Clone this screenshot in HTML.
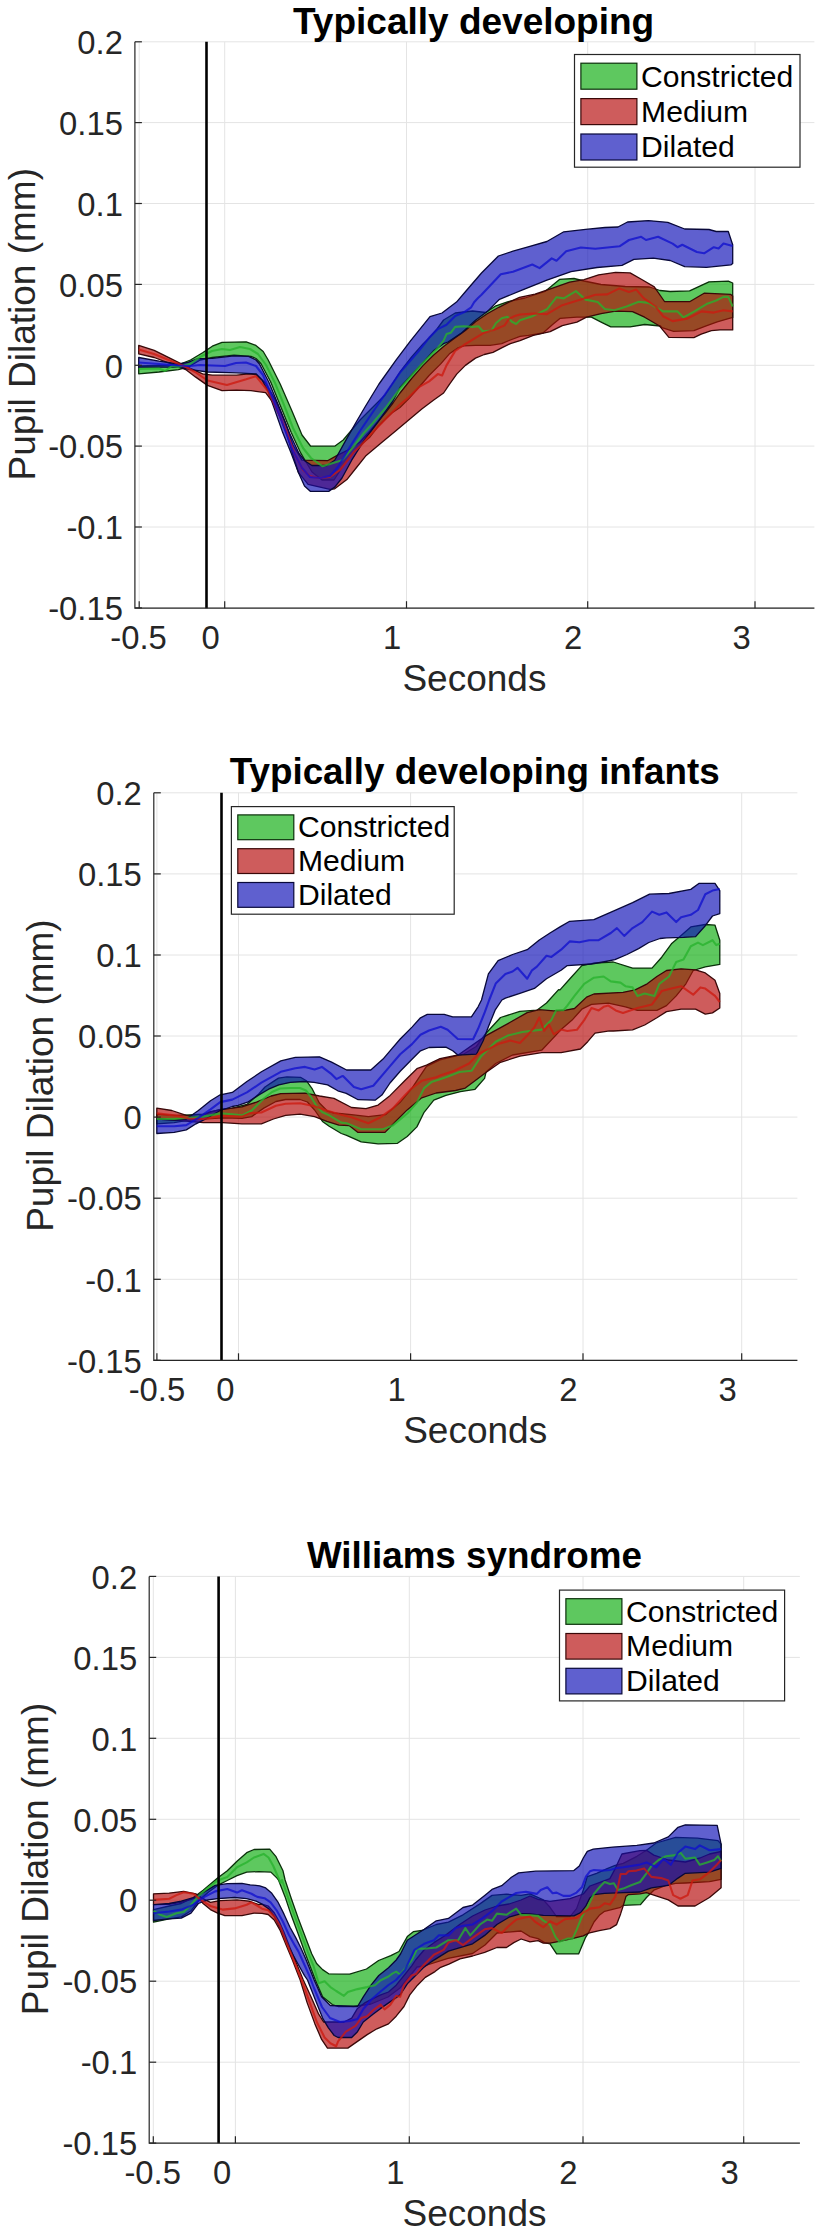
<!DOCTYPE html>
<html><head><meta charset="utf-8"><title>Pupil Dilation</title>
<style>
html,body{margin:0;padding:0;background:#fff;}
svg{display:block;font-family:"Liberation Sans",Arial,Helvetica,sans-serif;fill:#262626;}
</style></head><body>
<svg width="826" height="2237" viewBox="0 0 826 2237">
<rect width="826" height="2237" fill="#fff"/>
<line x1="134.9" x2="814.4" y1="41.8" y2="41.8" stroke="#e4e4e4" stroke-width="1"/>
<line x1="134.9" x2="814.4" y1="122.6" y2="122.6" stroke="#e4e4e4" stroke-width="1"/>
<line x1="134.9" x2="814.4" y1="203.5" y2="203.5" stroke="#e4e4e4" stroke-width="1"/>
<line x1="134.9" x2="814.4" y1="284.4" y2="284.4" stroke="#e4e4e4" stroke-width="1"/>
<line x1="134.9" x2="814.4" y1="365.3" y2="365.3" stroke="#e4e4e4" stroke-width="1"/>
<line x1="134.9" x2="814.4" y1="446.1" y2="446.1" stroke="#e4e4e4" stroke-width="1"/>
<line x1="134.9" x2="814.4" y1="527.0" y2="527.0" stroke="#e4e4e4" stroke-width="1"/>
<line x1="134.9" x2="814.4" y1="607.9" y2="607.9" stroke="#e4e4e4" stroke-width="1"/>
<line x1="139.2" x2="139.2" y1="41.8" y2="608.2" stroke="#e4e4e4" stroke-width="1"/>
<line x1="224.7" x2="224.7" y1="41.8" y2="608.2" stroke="#e4e4e4" stroke-width="1"/>
<line x1="406.5" x2="406.5" y1="41.8" y2="608.2" stroke="#e4e4e4" stroke-width="1"/>
<line x1="587.7" x2="587.7" y1="41.8" y2="608.2" stroke="#e4e4e4" stroke-width="1"/>
<line x1="755.0" x2="755.0" y1="41.8" y2="608.2" stroke="#e4e4e4" stroke-width="1"/>
<polygon points="138.7,366.0 159.0,365.5 178.4,364.8 190.5,360.0 202.6,352.7 212.3,346.2 222.0,342.3 246.2,341.8 255.9,345.4 263.2,351.5 268.2,360.0 280.3,384.2 292.4,412.0 302.0,435.0 310.5,446.0 334.7,446.2 343.2,440.0 350.0,432.0 360.0,420.0 372.0,408.0 385.0,395.0 400.0,372.0 411.6,357.0 423.0,344.0 429.1,338.0 437.0,329.0 443.6,320.0 455.2,313.0 472.6,311.0 485.7,312.5 495.9,305.8 507.5,301.8 525.0,298.0 545.0,291.5 559.5,279.4 574.0,278.5 584.0,281.0 601.0,284.5 625.3,286.5 649.5,287.0 660.0,290.5 670.2,291.5 689.6,290.8 709.0,281.8 728.3,281.1 732.7,283.0 732.7,317.4 717.2,321.9 705.5,326.2 693.9,330.6 673.6,331.3 662.0,327.7 660.5,326.0 644.6,324.5 630.1,326.9 610.8,326.9 601.1,322.1 591.4,317.2 576.9,317.2 559.9,318.4 552.6,324.5 543.0,333.0 528.4,335.4 520.0,336.3 510.4,340.0 501.7,343.6 490.1,345.3 475.5,345.3 463.9,345.8 458.1,347.9 449.4,353.8 440.7,363.9 429.1,375.5 418.9,387.2 408.7,398.8 400.0,407.5 393.0,412.1 384.5,420.0 378.4,426.0 370.0,436.9 360.3,445.4 356.5,449.0 344.4,464.0 334.0,480.0 322.0,480.0 312.0,472.0 306.0,462.0 300.8,453.2 291.2,432.6 281.5,408.4 270.6,381.8 260.9,363.5 256.0,358.5 251.0,356.3 234.0,355.1 212.3,357.5 200.2,360.0 188.0,367.2 178.4,369.6 159.0,372.0 138.7,373.8" fill="rgb(10,172,12)" fill-opacity="0.66" stroke="#0a300a" stroke-width="1.3" stroke-linejoin="round"/>
<polygon points="138.7,345.4 154.2,350.3 166.3,356.3 180.8,363.6 190.5,368.4 202.6,373.8 212.3,375.2 236.5,375.2 248.6,373.8 255.9,374.5 265.6,383.0 275.3,399.9 285.0,421.7 293.0,445.0 302.0,460.2 327.5,460.7 337.2,455.4 350.0,449.0 360.0,442.0 370.0,431.0 378.4,421.0 386.0,412.0 393.0,403.0 400.0,393.0 411.6,378.5 423.2,365.4 433.4,355.2 443.6,346.5 455.2,337.8 465.4,330.5 475.5,321.8 487.2,313.8 498.8,307.3 509.0,302.2 519.5,297.3 535.0,294.2 552.6,288.2 569.6,282.1 584.1,279.7 598.6,274.8 615.6,272.4 630.1,272.9 642.2,279.7 654.3,286.9 664.5,301.5 689.6,301.7 704.1,293.2 730.8,294.4 732.7,296.0 732.7,329.9 720.0,329.9 711.4,330.6 701.2,334.2 693.9,337.6 668.9,337.3 659.2,325.7 644.6,317.2 632.5,311.6 615.6,311.2 601.1,313.6 586.5,317.2 576.9,322.1 562.3,325.7 550.2,331.7 533.3,335.4 520.0,340.7 510.4,343.6 501.7,347.9 493.0,352.3 484.3,354.5 475.5,358.1 465.4,365.4 456.7,374.1 449.4,384.3 443.6,393.0 433.4,400.2 421.8,409.0 408.7,420.0 395.3,431.2 380.8,443.3 366.2,455.4 356.5,467.5 346.9,479.6 334.7,488.8 330.0,489.3 308.1,484.4 298.4,472.3 293.0,455.0 287.4,436.2 280.0,416.9 272.9,402.3 265.6,392.6 251.0,390.7 236.5,390.2 222.0,390.7 207.5,385.4 195.4,376.9 185.7,369.6 173.6,364.8 154.2,357.5 138.7,353.9" fill="rgb(180,8,8)" fill-opacity="0.66" stroke="#3a0808" stroke-width="1.3" stroke-linejoin="round"/>
<polygon points="138.7,357.5 159.0,361.2 178.4,364.0 188.0,362.4 197.8,358.7 212.3,358.3 234.0,355.8 248.6,356.3 256.0,360.0 259.5,364.0 269.0,382.5 280.0,409.0 289.5,433.0 299.0,453.5 305.0,461.0 312.0,465.5 327.0,465.5 334.7,460.2 346.9,438.4 356.5,421.5 365.0,407.0 379.0,384.0 396.0,360.2 410.5,340.8 430.0,316.6 442.0,313.0 456.5,302.1 466.0,291.0 481.5,273.0 498.4,256.0 513.0,251.2 529.9,246.3 546.9,241.5 563.8,231.8 585.6,229.4 605.0,227.5 618.0,227.0 627.5,222.0 648.4,220.6 667.8,222.3 684.7,229.0 709.0,229.5 716.2,231.5 728.3,231.5 732.7,244.8 732.7,263.4 730.8,264.9 706.5,267.3 684.7,266.6 670.2,260.5 653.3,258.1 633.9,259.4 622.0,265.3 597.0,267.5 571.0,271.7 546.9,280.2 522.6,289.9 499.5,299.3 495.9,302.9 487.2,311.6 475.5,320.3 461.0,333.4 448.0,342.0 443.6,343.6 433.4,350.9 421.8,363.9 411.0,375.5 400.0,387.5 392.9,401.0 378.3,421.5 363.8,440.8 351.7,460.2 342.0,478.0 334.7,487.1 328.7,491.4 310.5,491.4 304.5,485.9 298.4,472.6 291.2,453.2 282.7,432.6 274.2,408.4 268.2,391.5 262.0,380.0 256.0,373.8 236.5,372.8 207.5,372.0 190.5,369.6 178.4,367.2 159.0,367.2 138.7,367.2" fill="rgb(12,14,182)" fill-opacity="0.66" stroke="#08083a" stroke-width="1.3" stroke-linejoin="round"/>
<polyline points="138.7,369.0 159.0,368.5 165.0,371.0 172.0,366.0 178.4,367.0 190.0,364.0 200.0,357.0 212.0,351.0 222.0,349.0 230.0,350.0 240.0,347.0 250.0,349.0 258.0,354.0 266.0,365.0 275.0,383.0 284.0,405.0 293.0,428.0 303.0,448.0 311.0,458.0 322.6,466.3 342.0,460.2 354.0,446.0 363.8,433.0 372.0,424.0 385.6,408.0 393.0,398.0 400.0,388.6 411.6,375.5 421.8,363.9 429.1,356.7 437.8,347.9 443.6,340.7 446.5,334.1 450.9,332.7 455.2,326.9 463.9,326.2 472.6,326.9 478.5,326.2 482.8,331.2 491.5,330.5 495.9,323.2 501.7,318.2 507.5,316.7 511.9,321.8 516.2,324.0 520.0,320.3 531.6,316.6 546.9,309.3 556.5,297.2 563.8,298.4 575.9,291.1 585.6,299.6 597.7,302.0 604.8,309.0 614.5,310.2 626.6,306.5 638.7,301.7 648.4,302.9 663.0,311.4 677.5,311.4 683.5,317.4 694.4,311.4 706.5,304.1 716.2,300.5 723.5,296.9 728.3,296.9 732.7,306.5" fill="none" stroke="rgb(40,178,45)" stroke-width="2.1" stroke-linejoin="round" stroke-opacity="0.78"/>
<polyline points="138.7,349.5 154.0,354.0 170.0,360.5 185.0,366.5 195.0,372.0 207.5,380.5 226.9,384.9 246.2,379.3 255.9,376.2 268.0,391.0 277.0,410.0 286.0,430.0 295.0,455.0 303.0,470.0 310.0,476.0 318.0,478.0 330.0,477.0 340.0,470.0 354.0,452.0 360.3,446.0 371.0,434.0 386.0,418.5 393.0,411.5 400.0,404.6 408.7,397.3 418.9,387.2 429.1,381.4 437.8,374.1 442.1,375.5 446.5,365.4 455.2,350.9 463.9,345.0 475.5,337.8 484.3,332.7 494.4,329.8 504.6,325.4 509.0,318.9 514.8,316.0 520.0,314.5 534.0,313.5 546.9,314.1 561.4,305.6 580.8,299.6 595.3,294.7 607.3,294.4 619.4,288.4 629.0,292.0 636.3,289.6 643.6,298.1 655.7,306.5 663.0,316.2 672.6,321.1 687.2,318.6 701.7,311.4 713.8,312.6 723.5,310.2 732.7,311.4" fill="none" stroke="rgb(205,25,15)" stroke-width="2.1" stroke-linejoin="round" stroke-opacity="0.78"/>
<polyline points="138.7,362.5 159.0,364.0 178.0,365.5 190.0,366.0 200.0,365.0 212.0,365.5 225.0,366.0 236.0,363.0 246.0,362.5 256.0,366.0 263.0,375.0 270.0,392.0 281.0,419.0 292.0,449.0 302.0,468.0 310.0,477.0 320.0,478.0 330.0,476.0 338.0,467.0 348.0,450.0 360.0,431.0 374.2,410.0 393.6,382.0 400.0,372.6 408.7,362.5 418.9,350.9 429.1,337.8 437.8,329.1 446.5,324.7 455.2,316.0 463.9,312.3 471.2,307.3 474.1,302.2 478.0,298.0 481.5,294.7 500.8,274.2 513.0,271.7 532.3,264.5 539.6,268.1 551.7,258.4 556.5,260.8 566.2,251.2 580.8,247.5 595.3,248.7 619.5,246.3 629.0,240.0 641.2,236.8 646.0,240.0 658.1,236.8 672.6,243.6 677.5,247.2 682.3,244.8 696.9,252.0 704.1,253.3 713.8,247.2 718.6,248.4 723.5,243.6 732.7,246.0" fill="none" stroke="rgb(15,15,205)" stroke-width="2.1" stroke-linejoin="round" stroke-opacity="0.78"/>
<line x1="206.5" x2="206.5" y1="41.8" y2="608.2" stroke="#000" stroke-width="2.6"/>
<path d="M134.9,41.8V608.2H814.4" fill="none" stroke="#262626" stroke-width="1.2"/>
<line x1="134.9" x2="141.9" y1="41.8" y2="41.8" stroke="#262626" stroke-width="1.2"/>
<line x1="134.9" x2="141.9" y1="122.6" y2="122.6" stroke="#262626" stroke-width="1.2"/>
<line x1="134.9" x2="141.9" y1="203.5" y2="203.5" stroke="#262626" stroke-width="1.2"/>
<line x1="134.9" x2="141.9" y1="284.4" y2="284.4" stroke="#262626" stroke-width="1.2"/>
<line x1="134.9" x2="141.9" y1="365.3" y2="365.3" stroke="#262626" stroke-width="1.2"/>
<line x1="134.9" x2="141.9" y1="446.1" y2="446.1" stroke="#262626" stroke-width="1.2"/>
<line x1="134.9" x2="141.9" y1="527.0" y2="527.0" stroke="#262626" stroke-width="1.2"/>
<line x1="134.9" x2="141.9" y1="607.9" y2="607.9" stroke="#262626" stroke-width="1.2"/>
<line x1="139.2" x2="139.2" y1="608.2" y2="601.2" stroke="#262626" stroke-width="1.2"/>
<line x1="224.7" x2="224.7" y1="608.2" y2="601.2" stroke="#262626" stroke-width="1.2"/>
<line x1="406.5" x2="406.5" y1="608.2" y2="601.2" stroke="#262626" stroke-width="1.2"/>
<line x1="587.7" x2="587.7" y1="608.2" y2="601.2" stroke="#262626" stroke-width="1.2"/>
<line x1="755.0" x2="755.0" y1="608.2" y2="601.2" stroke="#262626" stroke-width="1.2"/>
<text x="122.9" y="54.0" text-anchor="end" font-size="32.8">0.2</text>
<text x="122.9" y="134.8" text-anchor="end" font-size="32.8">0.15</text>
<text x="122.9" y="215.7" text-anchor="end" font-size="32.8">0.1</text>
<text x="122.9" y="296.6" text-anchor="end" font-size="32.8">0.05</text>
<text x="122.9" y="377.5" text-anchor="end" font-size="32.8">0</text>
<text x="122.9" y="458.3" text-anchor="end" font-size="32.8">-0.05</text>
<text x="122.9" y="539.2" text-anchor="end" font-size="32.8">-0.1</text>
<text x="122.9" y="620.1" text-anchor="end" font-size="32.8">-0.15</text>
<text x="138.5" y="648.6" text-anchor="middle" font-size="32.8">-0.5</text>
<text x="210.7" y="648.6" text-anchor="middle" font-size="32.8">0</text>
<text x="392.0" y="648.6" text-anchor="middle" font-size="32.8">1</text>
<text x="573.2" y="648.6" text-anchor="middle" font-size="32.8">2</text>
<text x="741.5" y="648.6" text-anchor="middle" font-size="32.8">3</text>
<text x="473.6" y="33.8" text-anchor="middle" font-size="37.0" font-weight="bold" fill="#000">Typically developing</text>
<text x="474.4" y="691.2" text-anchor="middle" font-size="37">Seconds</text>
<text transform="translate(34.6,324.3) rotate(-90)" text-anchor="middle" font-size="37">Pupil Dilation (mm)</text>
<rect x="574.5" y="54.5" width="225.5" height="112.7" fill="#fff" stroke="#262626" stroke-width="1.2"/>
<rect x="580.9" y="63.2" width="56" height="26.0" fill="rgb(10,172,12)" fill-opacity="0.66" stroke="#0a300a" stroke-width="1.2"/>
<text x="641.1" y="86.6" font-size="30.1" fill="#000">Constricted</text>
<rect x="580.9" y="98.6" width="56" height="26.0" fill="rgb(180,8,8)" fill-opacity="0.66" stroke="#3a0808" stroke-width="1.2"/>
<text x="641.1" y="122.0" font-size="30.1" fill="#000">Medium</text>
<rect x="580.9" y="134.0" width="56" height="26.0" fill="rgb(12,14,182)" fill-opacity="0.66" stroke="#08083a" stroke-width="1.2"/>
<text x="641.1" y="157.4" font-size="30.1" fill="#000">Dilated</text>
<line x1="153.8" x2="797.4" y1="792.8" y2="792.8" stroke="#e4e4e4" stroke-width="1"/>
<line x1="153.8" x2="797.4" y1="873.9" y2="873.9" stroke="#e4e4e4" stroke-width="1"/>
<line x1="153.8" x2="797.4" y1="955.0" y2="955.0" stroke="#e4e4e4" stroke-width="1"/>
<line x1="153.8" x2="797.4" y1="1036.0" y2="1036.0" stroke="#e4e4e4" stroke-width="1"/>
<line x1="153.8" x2="797.4" y1="1117.1" y2="1117.1" stroke="#e4e4e4" stroke-width="1"/>
<line x1="153.8" x2="797.4" y1="1198.2" y2="1198.2" stroke="#e4e4e4" stroke-width="1"/>
<line x1="153.8" x2="797.4" y1="1279.3" y2="1279.3" stroke="#e4e4e4" stroke-width="1"/>
<line x1="153.8" x2="797.4" y1="1360.3" y2="1360.3" stroke="#e4e4e4" stroke-width="1"/>
<line x1="156.9" x2="156.9" y1="792.8" y2="1360.3" stroke="#e4e4e4" stroke-width="1"/>
<line x1="238.5" x2="238.5" y1="792.8" y2="1360.3" stroke="#e4e4e4" stroke-width="1"/>
<line x1="410.6" x2="410.6" y1="792.8" y2="1360.3" stroke="#e4e4e4" stroke-width="1"/>
<line x1="583.0" x2="583.0" y1="792.8" y2="1360.3" stroke="#e4e4e4" stroke-width="1"/>
<line x1="741.7" x2="741.7" y1="792.8" y2="1360.3" stroke="#e4e4e4" stroke-width="1"/>
<polygon points="156.8,1114.2 174.2,1115.4 188.7,1114.9 203.3,1114.2 220.2,1109.3 232.3,1108.1 246.9,1104.5 252.0,1100.0 258.5,1094.2 265.0,1087.0 272.0,1082.4 278.5,1078.1 286.9,1076.9 300.5,1077.3 306.4,1080.7 312.4,1089.2 319.2,1102.7 327.6,1111.2 334.0,1113.0 351.5,1114.7 368.4,1116.7 385.4,1114.7 399.9,1102.6 412.0,1088.1 419.3,1077.2 426.5,1066.3 440.0,1059.9 464.2,1053.8 476.3,1046.5 486.0,1033.2 500.5,1017.5 519.9,1011.4 536.9,1010.2 546.5,1003.0 558.6,989.6 560.0,989.9 569.7,979.0 581.8,965.6 593.9,963.2 613.3,962.0 632.6,968.1 652.0,968.1 661.7,957.2 671.4,943.8 681.1,935.4 690.8,926.9 705.3,924.5 715.0,925.2 719.8,940.2 719.8,964.4 705.3,966.9 693.2,970.5 685.9,983.8 676.2,995.9 666.5,1005.6 656.9,1010.4 637.5,1010.4 625.4,1006.8 608.4,1003.2 591.5,1004.4 581.8,1009.2 572.1,1020.1 561.1,1029.6 541.7,1050.2 512.6,1055.0 495.7,1063.5 486.0,1072.0 484.6,1078.4 475.0,1089.3 460.4,1091.7 445.9,1095.4 433.8,1100.2 424.1,1112.3 416.9,1126.9 407.2,1136.5 397.5,1143.3 378.1,1143.8 361.2,1141.9 346.6,1135.3 341.3,1133.5 329.2,1126.3 322.5,1121.4 314.6,1110.0 307.4,1102.0 300.1,1099.5 285.6,1099.5 275.9,1101.5 263.8,1108.1 251.7,1116.6 242.0,1118.3 222.6,1117.8 203.3,1119.0 188.7,1120.2 174.2,1122.6 156.8,1123.8" fill="rgb(10,172,12)" fill-opacity="0.66" stroke="#0a300a" stroke-width="1.3" stroke-linejoin="round"/>
<polygon points="156.8,1108.1 171.8,1110.5 186.3,1115.4 198.4,1116.6 210.5,1111.7 222.6,1109.3 242.0,1106.9 256.5,1102.1 271.1,1096.0 280.8,1093.6 305.0,1093.1 319.5,1096.0 334.0,1098.4 351.5,1107.5 366.0,1108.7 378.1,1105.1 390.2,1095.4 404.7,1080.8 416.9,1068.7 426.5,1065.1 440.0,1058.6 458.2,1055.0 486.0,1035.6 510.2,1022.3 527.2,1012.6 539.3,1009.7 553.8,1010.9 565.9,1010.2 574.5,1008.5 586.6,997.1 593.9,994.0 623.0,992.3 635.1,989.9 647.2,983.8 656.9,976.5 666.5,970.5 681.1,968.8 695.6,969.8 705.3,972.9 715.0,980.2 719.8,993.5 719.8,1008.0 712.5,1012.9 705.3,1014.1 695.6,1009.2 681.1,1009.2 666.5,1011.6 656.9,1017.7 644.7,1025.0 632.6,1029.8 613.3,1031.0 609.5,1030.8 595.0,1033.2 587.7,1041.7 580.4,1049.0 561.1,1052.6 541.7,1052.6 519.9,1056.2 500.5,1062.3 488.4,1070.8 484.6,1073.6 475.0,1080.8 465.3,1088.1 455.6,1090.5 436.2,1093.0 421.7,1097.8 407.2,1109.9 395.1,1122.0 385.0,1132.4 358.0,1132.4 349.1,1125.6 338.9,1125.1 326.8,1121.4 314.6,1116.6 300.1,1114.2 285.6,1115.4 273.5,1119.0 261.4,1123.8 242.0,1123.8 222.6,1122.6 203.3,1122.6 188.7,1121.4 174.2,1120.2 156.8,1119.0" fill="rgb(180,8,8)" fill-opacity="0.66" stroke="#3a0808" stroke-width="1.3" stroke-linejoin="round"/>
<polygon points="156.8,1119.0 174.2,1120.2 186.3,1119.0 198.4,1110.5 210.5,1100.8 220.2,1094.8 232.3,1092.4 246.9,1081.5 261.4,1071.8 280.8,1060.9 295.3,1057.3 319.5,1056.8 331.6,1062.1 346.6,1070.0 370.8,1070.0 383.0,1059.1 390.0,1050.8 400.2,1039.0 412.0,1027.1 420.5,1017.8 427.3,1014.4 444.2,1014.4 452.7,1016.9 471.4,1016.9 478.1,1006.8 481.5,1000.0 488.4,973.9 498.1,960.6 512.6,954.5 527.2,949.7 539.3,940.0 550.0,933.0 560.0,926.9 569.7,921.3 593.9,919.6 613.3,911.2 632.6,902.7 649.6,894.2 669.0,893.5 690.8,889.4 699.2,883.3 715.0,883.3 719.8,890.6 719.8,913.6 712.5,916.0 705.3,925.7 695.6,936.6 683.5,937.3 666.5,937.8 660.0,938.5 648.8,942.5 638.6,948.6 627.0,954.5 614.9,959.7 603.0,962.0 591.5,964.0 567.3,965.6 561.1,970.3 546.5,978.7 534.4,988.4 519.9,993.3 505.4,998.1 501.9,1000.0 495.1,1010.2 488.3,1027.1 483.2,1040.7 476.4,1054.2 457.8,1055.1 452.7,1050.8 445.9,1047.1 429.0,1047.5 420.5,1050.8 412.0,1059.3 400.2,1071.2 390.0,1083.0 381.9,1095.1 375.1,1100.2 358.1,1099.7 346.3,1093.4 337.8,1090.8 327.6,1084.9 314.1,1082.4 303.9,1081.5 290.3,1082.4 278.8,1084.9 268.6,1089.2 258.5,1095.1 248.3,1101.9 238.1,1105.3 232.3,1106.5 220.2,1110.5 205.7,1119.0 196.0,1123.8 186.3,1129.9 174.2,1132.3 156.8,1133.5" fill="rgb(12,14,182)" fill-opacity="0.66" stroke="#08083a" stroke-width="1.3" stroke-linejoin="round"/>
<polyline points="156.8,1119.0 174.2,1119.0 188.7,1117.8 203.3,1116.6 220.2,1113.4 232.3,1114.2 242.0,1115.4 251.7,1110.5 263.8,1098.5 272.0,1092.0 280.0,1088.5 290.0,1088.0 300.0,1088.0 306.0,1090.5 311.0,1097.0 316.5,1106.0 322.0,1112.0 329.2,1115.4 341.3,1122.6 346.6,1123.2 361.2,1129.3 383.0,1129.3 392.6,1125.6 407.2,1113.5 416.9,1102.6 424.1,1088.1 431.4,1082.1 440.0,1079.2 447.3,1076.8 459.4,1072.0 471.5,1070.8 481.2,1056.2 495.7,1041.7 507.8,1035.6 522.3,1032.0 541.7,1029.6 551.4,1019.9 556.2,1010.2 563.5,1010.2 567.3,1005.6 574.5,995.9 584.2,983.8 593.9,977.7 603.6,976.5 610.8,981.4 620.5,982.6 625.4,986.2 632.6,987.4 637.5,995.9 644.7,993.5 654.4,995.9 659.3,983.8 669.0,976.5 676.2,962.0 683.5,959.6 690.8,946.3 698.0,942.6 702.9,945.1 712.5,940.2 716.2,945.1 719.8,943.8" fill="none" stroke="rgb(40,178,45)" stroke-width="2.1" stroke-linejoin="round" stroke-opacity="0.78"/>
<polyline points="156.8,1113.4 174.2,1115.4 188.7,1118.5 203.3,1119.0 222.6,1115.9 242.0,1116.6 249.3,1113.4 261.4,1112.5 275.9,1105.7 285.6,1103.8 300.1,1103.3 314.6,1106.2 326.8,1110.5 338.9,1114.2 351.5,1117.2 368.4,1123.2 380.5,1117.2 392.6,1108.7 404.7,1095.4 412.0,1088.1 421.7,1080.8 436.2,1077.2 440.0,1075.6 454.5,1070.8 469.1,1063.5 478.7,1053.8 488.4,1049.0 498.1,1044.1 510.2,1040.5 519.9,1042.9 527.2,1035.6 534.4,1027.2 539.3,1017.5 544.1,1030.8 549.0,1024.7 553.8,1034.4 561.1,1029.6 567.3,1031.0 576.9,1029.8 584.2,1020.1 591.5,1008.0 598.7,1010.4 603.6,1006.8 608.4,1005.6 615.7,1010.4 623.0,1012.9 630.2,1010.4 637.5,1008.0 652.0,1004.4 661.7,991.1 671.4,988.6 681.1,986.2 693.2,994.7 700.4,987.4 705.3,988.6 715.0,995.9 719.8,1002.0" fill="none" stroke="rgb(205,25,15)" stroke-width="2.1" stroke-linejoin="round" stroke-opacity="0.78"/>
<polyline points="156.8,1126.3 174.2,1126.3 186.3,1125.1 198.4,1117.8 210.5,1109.3 220.2,1102.1 232.3,1099.6 246.9,1092.4 261.4,1082.7 280.8,1071.8 295.3,1068.2 305.0,1066.9 314.6,1069.4 321.9,1066.9 331.6,1074.2 336.4,1079.1 341.3,1076.6 343.0,1076.0 353.9,1086.9 361.2,1089.3 373.3,1085.7 390.0,1066.1 400.2,1054.2 412.0,1044.1 420.5,1034.7 429.0,1030.5 440.8,1026.8 447.6,1029.7 457.8,1039.0 473.1,1039.3 478.1,1028.8 484.9,1011.9 489.2,1000.0 495.7,983.6 505.4,973.9 512.6,971.5 517.5,967.8 527.2,978.7 532.0,970.3 536.9,966.6 546.5,955.7 551.4,956.9 561.1,949.7 569.7,941.4 579.4,942.2 589.1,940.2 598.7,940.2 610.8,933.0 616.9,928.1 624.2,935.9 632.6,928.1 642.3,922.1 652.0,911.6 659.3,914.8 666.5,912.4 676.2,922.1 681.1,917.2 690.8,914.8 698.0,910.0 705.3,894.2 712.5,890.6 719.8,888.9" fill="none" stroke="rgb(15,15,205)" stroke-width="2.1" stroke-linejoin="round" stroke-opacity="0.78"/>
<line x1="221.5" x2="221.5" y1="792.8" y2="1360.3" stroke="#000" stroke-width="2.6"/>
<path d="M153.8,792.8V1360.3H797.4" fill="none" stroke="#262626" stroke-width="1.2"/>
<line x1="153.8" x2="160.8" y1="792.8" y2="792.8" stroke="#262626" stroke-width="1.2"/>
<line x1="153.8" x2="160.8" y1="873.9" y2="873.9" stroke="#262626" stroke-width="1.2"/>
<line x1="153.8" x2="160.8" y1="955.0" y2="955.0" stroke="#262626" stroke-width="1.2"/>
<line x1="153.8" x2="160.8" y1="1036.0" y2="1036.0" stroke="#262626" stroke-width="1.2"/>
<line x1="153.8" x2="160.8" y1="1117.1" y2="1117.1" stroke="#262626" stroke-width="1.2"/>
<line x1="153.8" x2="160.8" y1="1198.2" y2="1198.2" stroke="#262626" stroke-width="1.2"/>
<line x1="153.8" x2="160.8" y1="1279.3" y2="1279.3" stroke="#262626" stroke-width="1.2"/>
<line x1="153.8" x2="160.8" y1="1360.3" y2="1360.3" stroke="#262626" stroke-width="1.2"/>
<line x1="156.9" x2="156.9" y1="1360.3" y2="1353.3" stroke="#262626" stroke-width="1.2"/>
<line x1="238.5" x2="238.5" y1="1360.3" y2="1353.3" stroke="#262626" stroke-width="1.2"/>
<line x1="410.6" x2="410.6" y1="1360.3" y2="1353.3" stroke="#262626" stroke-width="1.2"/>
<line x1="583.0" x2="583.0" y1="1360.3" y2="1353.3" stroke="#262626" stroke-width="1.2"/>
<line x1="741.7" x2="741.7" y1="1360.3" y2="1353.3" stroke="#262626" stroke-width="1.2"/>
<text x="141.8" y="805.0" text-anchor="end" font-size="32.8">0.2</text>
<text x="141.8" y="886.1" text-anchor="end" font-size="32.8">0.15</text>
<text x="141.8" y="967.2" text-anchor="end" font-size="32.8">0.1</text>
<text x="141.8" y="1048.2" text-anchor="end" font-size="32.8">0.05</text>
<text x="141.8" y="1129.3" text-anchor="end" font-size="32.8">0</text>
<text x="141.8" y="1210.4" text-anchor="end" font-size="32.8">-0.05</text>
<text x="141.8" y="1291.5" text-anchor="end" font-size="32.8">-0.1</text>
<text x="141.8" y="1372.5" text-anchor="end" font-size="32.8">-0.15</text>
<text x="156.9" y="1401.2" text-anchor="middle" font-size="32.8">-0.5</text>
<text x="225.3" y="1401.2" text-anchor="middle" font-size="32.8">0</text>
<text x="396.5" y="1401.2" text-anchor="middle" font-size="32.8">1</text>
<text x="568.3" y="1401.2" text-anchor="middle" font-size="32.8">2</text>
<text x="727.7" y="1401.2" text-anchor="middle" font-size="32.8">3</text>
<text x="474.75" y="783.7" text-anchor="middle" font-size="36.8" font-weight="bold" fill="#000">Typically developing infants</text>
<text x="475.2" y="1443.2" text-anchor="middle" font-size="37">Seconds</text>
<text transform="translate(53.3,1075.6) rotate(-90)" text-anchor="middle" font-size="37">Pupil Dilation (mm)</text>
<rect x="231.4" y="806.6" width="222.8" height="107.6" fill="#fff" stroke="#262626" stroke-width="1.2"/>
<rect x="237.8" y="814.9" width="56" height="24.8" fill="rgb(10,172,12)" fill-opacity="0.66" stroke="#0a300a" stroke-width="1.2"/>
<text x="298.0" y="837.1" font-size="30.1" fill="#000">Constricted</text>
<rect x="237.8" y="848.7" width="56" height="24.8" fill="rgb(180,8,8)" fill-opacity="0.66" stroke="#3a0808" stroke-width="1.2"/>
<text x="298.0" y="870.9" font-size="30.1" fill="#000">Medium</text>
<rect x="237.8" y="882.5" width="56" height="24.8" fill="rgb(12,14,182)" fill-opacity="0.66" stroke="#08083a" stroke-width="1.2"/>
<text x="298.0" y="904.7" font-size="30.1" fill="#000">Dilated</text>
<line x1="149.2" x2="799.9" y1="1576.4" y2="1576.4" stroke="#e4e4e4" stroke-width="1"/>
<line x1="149.2" x2="799.9" y1="1657.4" y2="1657.4" stroke="#e4e4e4" stroke-width="1"/>
<line x1="149.2" x2="799.9" y1="1738.3" y2="1738.3" stroke="#e4e4e4" stroke-width="1"/>
<line x1="149.2" x2="799.9" y1="1819.3" y2="1819.3" stroke="#e4e4e4" stroke-width="1"/>
<line x1="149.2" x2="799.9" y1="1900.2" y2="1900.2" stroke="#e4e4e4" stroke-width="1"/>
<line x1="149.2" x2="799.9" y1="1981.2" y2="1981.2" stroke="#e4e4e4" stroke-width="1"/>
<line x1="149.2" x2="799.9" y1="2062.2" y2="2062.2" stroke="#e4e4e4" stroke-width="1"/>
<line x1="149.2" x2="799.9" y1="2143.1" y2="2143.1" stroke="#e4e4e4" stroke-width="1"/>
<line x1="153.3" x2="153.3" y1="1576.4" y2="2143.2" stroke="#e4e4e4" stroke-width="1"/>
<line x1="235.4" x2="235.4" y1="1576.4" y2="2143.2" stroke="#e4e4e4" stroke-width="1"/>
<line x1="409.3" x2="409.3" y1="1576.4" y2="2143.2" stroke="#e4e4e4" stroke-width="1"/>
<line x1="583.0" x2="583.0" y1="1576.4" y2="2143.2" stroke="#e4e4e4" stroke-width="1"/>
<line x1="743.7" x2="743.7" y1="1576.4" y2="2143.2" stroke="#e4e4e4" stroke-width="1"/>
<polygon points="153.5,1909.6 169.2,1906.0 181.3,1903.5 193.4,1897.5 203.1,1890.2 217.6,1878.1 227.3,1870.8 237.0,1861.2 246.7,1852.7 254.0,1849.5 269.7,1849.1 275.8,1856.3 283.0,1870.8 285.1,1880.0 291.2,1898.2 298.4,1918.7 305.7,1938.1 311.7,1953.8 316.6,1963.5 322.6,1969.6 328.7,1973.8 349.6,1974.2 366.5,1969.0 378.6,1960.5 390.8,1955.7 399.0,1951.5 407.3,1936.6 413.3,1931.7 421.8,1930.5 436.3,1924.5 448.4,1922.1 463.0,1914.8 479.9,1903.9 492.0,1895.4 506.5,1894.2 521.1,1895.4 530.0,1893.9 543.3,1899.9 550.0,1907.3 556.6,1916.6 570.0,1916.6 576.6,1908.6 583.3,1890.0 587.3,1876.6 596.6,1873.3 607.2,1868.6 615.2,1865.3 623.2,1863.3 636.9,1856.3 646.5,1850.3 656.2,1843.0 675.6,1837.4 697.4,1838.2 718.0,1840.6 721.1,1844.2 721.1,1879.3 709.5,1881.7 685.3,1883.0 675.6,1883.4 665.9,1885.4 653.8,1890.2 646.5,1897.5 640.5,1904.7 623.2,1905.3 620.6,1907.3 612.6,1909.3 604.6,1911.3 599.3,1915.3 594.0,1922.0 588.6,1932.6 585.3,1937.9 578.6,1953.9 556.6,1953.9 550.0,1943.9 544.6,1942.6 538.0,1938.6 530.0,1936.6 521.0,1931.0 497.0,1933.0 485.0,1945.0 472.6,1953.5 448.0,1958.4 424.0,1966.0 417.0,1967.0 410.0,1976.0 400.0,1988.0 388.0,1997.0 371.0,2004.0 353.6,2006.5 338.1,2006.5 332.3,2004.6 322.6,1996.8 315.4,1980.0 310.5,1967.2 304.5,1951.4 298.4,1934.5 291.2,1915.1 285.1,1896.9 278.5,1880.0 277.0,1878.1 270.9,1872.1 258.8,1871.6 246.7,1872.1 237.0,1875.7 227.3,1880.5 217.6,1885.4 208.0,1892.6 198.3,1901.1 191.0,1910.8 181.3,1916.9 169.2,1918.8 153.5,1922.2" fill="rgb(10,172,12)" fill-opacity="0.66" stroke="#0a300a" stroke-width="1.3" stroke-linejoin="round"/>
<polygon points="153.5,1893.8 169.2,1893.1 183.7,1891.4 195.8,1893.8 203.1,1898.7 210.4,1902.3 220.1,1900.6 237.0,1899.9 249.1,1901.1 258.8,1904.7 262.1,1904.2 268.2,1906.0 274.2,1912.7 279.1,1921.2 283.9,1932.1 290.0,1947.8 296.0,1962.3 303.3,1980.0 311.0,1996.8 318.7,2014.2 323.6,2022.0 343.9,2022.0 351.7,2018.1 357.5,2008.4 365.2,2002.6 373.0,1998.7 380.7,1994.9 388.5,1992.0 396.2,1985.2 404.0,1975.5 411.7,1965.8 415.6,1960.0 424.0,1950.0 434.3,1942.4 444.0,1936.3 453.7,1929.1 460.0,1924.2 472.6,1916.0 485.0,1910.0 497.0,1906.0 509.0,1904.0 521.0,1900.0 530.0,1896.0 538.0,1899.3 550.0,1901.3 570.0,1898.6 583.3,1894.0 589.9,1886.0 599.3,1882.6 609.9,1878.6 615.2,1868.6 621.9,1854.0 640.0,1850.7 646.5,1850.3 653.8,1855.1 668.3,1860.0 685.3,1862.0 700.0,1858.0 709.5,1854.0 721.1,1851.5 721.1,1887.8 709.5,1897.5 695.0,1906.0 678.0,1906.0 668.3,1899.9 653.8,1895.1 646.5,1892.6 640.0,1893.9 628.5,1894.6 625.9,1896.6 623.2,1905.9 620.6,1913.9 616.6,1924.6 609.9,1928.6 599.3,1930.6 588.6,1933.2 583.3,1935.9 570.0,1939.2 556.6,1941.9 550.0,1943.2 543.3,1943.2 538.0,1940.6 530.0,1941.9 521.1,1939.0 513.8,1942.6 506.5,1947.5 496.9,1947.5 484.7,1952.3 472.6,1956.0 460.0,1958.8 448.9,1964.2 440.0,1967.7 435.0,1971.6 425.3,1977.4 417.5,1985.2 409.8,1994.9 404.0,2006.5 396.2,2016.2 388.5,2023.9 376.9,2028.8 367.2,2034.6 357.5,2041.4 347.8,2048.1 327.5,2048.1 321.6,2039.4 314.9,2023.9 307.1,2002.6 300.2,1980.0 298.4,1975.6 292.4,1959.9 286.3,1945.4 280.3,1930.8 274.2,1920.0 268.2,1914.5 262.1,1913.3 254.0,1913.2 241.9,1915.6 224.9,1915.6 217.6,1913.2 210.4,1909.6 203.1,1903.5 198.3,1897.5 193.4,1898.7 181.3,1902.3 169.2,1904.3 153.5,1904.7" fill="rgb(180,8,8)" fill-opacity="0.66" stroke="#3a0808" stroke-width="1.3" stroke-linejoin="round"/>
<polygon points="153.5,1904.7 169.2,1903.5 181.3,1901.1 193.4,1897.5 203.1,1892.6 215.2,1885.4 227.3,1883.7 241.9,1883.4 250.0,1884.8 259.7,1885.8 265.7,1887.9 271.8,1893.3 277.8,1901.8 283.9,1913.9 290.0,1927.2 296.0,1938.1 300.8,1947.8 305.7,1958.7 310.5,1970.8 314.2,1980.0 321.6,1996.8 330.4,2005.5 357.5,2006.5 363.3,1996.8 371.0,1985.2 378.8,1975.5 388.5,1967.7 396.2,1960.0 400.5,1954.0 407.3,1940.2 424.2,1929.3 436.3,1920.8 448.4,1918.4 463.0,1907.5 472.6,1905.1 484.7,1895.4 492.0,1889.4 501.7,1885.7 511.4,1877.3 518.6,1872.9 535.6,1871.2 573.9,1870.6 579.3,1866.0 583.3,1858.0 587.3,1851.3 593.3,1849.1 612.6,1847.1 636.9,1845.4 653.8,1843.0 668.3,1836.9 678.0,1827.3 685.3,1824.8 717.2,1825.3 721.1,1844.2 721.1,1868.4 709.5,1872.1 685.3,1873.3 678.0,1878.1 668.3,1885.4 651.4,1887.8 640.0,1892.0 623.2,1892.6 604.6,1893.3 593.9,1894.6 589.9,1897.9 585.9,1905.9 580.6,1912.6 573.9,1915.9 543.3,1915.3 530.0,1913.9 521.1,1913.6 509.0,1917.2 496.9,1924.5 484.7,1935.4 472.6,1943.8 448.4,1951.1 431.1,1961.9 423.3,1967.7 415.6,1975.5 407.8,1983.2 400.1,1994.9 390.4,2001.6 380.7,2008.4 373.0,2014.2 363.3,2022.0 357.5,2031.7 351.7,2037.5 338.1,2037.5 334.2,2035.5 328.4,2027.8 322.6,2018.1 314.9,1998.7 307.5,1980.0 304.5,1975.6 298.4,1964.7 292.4,1953.8 286.3,1941.7 280.3,1928.4 274.2,1916.3 268.2,1908.5 262.1,1904.2 256.1,1901.2 246.7,1898.7 234.6,1897.5 217.6,1898.7 208.0,1899.9 198.3,1903.5 191.0,1913.2 181.3,1918.1 169.2,1918.8 153.5,1920.5" fill="rgb(12,14,182)" fill-opacity="0.66" stroke="#08083a" stroke-width="1.3" stroke-linejoin="round"/>
<polyline points="153.5,1910.8 159.5,1914.4 166.8,1916.9 176.5,1913.2 183.7,1912.0 191.0,1904.7 198.3,1896.3 208.0,1887.8 217.6,1880.5 227.3,1876.9 237.0,1867.2 246.7,1862.4 254.0,1857.5 263.6,1853.9 268.5,1857.5 273.3,1866.0 280.6,1883.0 282.0,1880.0 288.0,1897.5 295.0,1917.0 302.0,1936.0 308.0,1952.5 313.5,1966.0 318.7,1983.2 324.6,1981.3 330.4,1987.1 336.2,1991.0 343.9,1995.8 347.8,1992.0 357.5,1989.1 367.2,1987.1 374.9,1985.2 380.7,1980.3 388.5,1976.5 392.3,1973.6 396.2,1971.6 400.1,1974.5 405.9,1967.7 411.7,1960.0 417.4,1948.4 424.2,1948.7 436.3,1947.5 448.4,1940.2 458.1,1940.2 465.4,1928.1 470.2,1935.4 479.9,1924.5 487.2,1919.6 492.0,1920.8 496.9,1913.6 506.5,1914.8 516.2,1908.7 521.1,1914.8 530.0,1915.3 538.0,1915.9 543.3,1920.6 550.0,1924.6 555.3,1936.6 559.3,1941.9 567.3,1938.6 572.6,1938.6 576.6,1929.9 581.9,1916.6 587.3,1907.3 593.9,1893.9 600.6,1886.0 604.6,1882.0 609.9,1884.0 613.9,1883.3 617.9,1890.0 623.2,1888.6 631.2,1885.3 640.0,1882.0 646.5,1873.3 651.4,1866.0 658.6,1860.0 665.9,1856.3 675.6,1855.1 680.4,1852.7 685.3,1858.7 695.0,1857.5 699.8,1864.8 707.1,1862.4 714.3,1860.0 718.0,1856.3 721.1,1861.2" fill="none" stroke="rgb(40,178,45)" stroke-width="2.1" stroke-linejoin="round" stroke-opacity="0.78"/>
<polyline points="153.5,1899.9 169.2,1898.7 176.5,1895.1 183.7,1892.2 193.4,1893.8 200.7,1899.9 210.4,1906.0 222.5,1909.6 234.6,1908.4 246.7,1904.7 251.5,1902.3 262.0,1908.7 268.2,1910.3 274.2,1916.4 280.0,1926.0 285.0,1938.8 291.0,1953.5 297.0,1968.5 301.3,1979.4 309.1,2000.7 316.8,2022.0 324.6,2037.5 330.4,2043.3 336.2,2046.2 338.1,2041.4 345.9,2031.7 355.5,2025.9 361.4,2018.1 367.2,2016.2 373.0,2010.4 380.7,2004.6 384.6,2009.4 390.4,2004.6 396.2,1995.8 400.1,1996.8 404.0,1985.2 411.7,1975.5 416.0,1974.0 421.8,1966.9 433.9,1954.7 443.6,1949.9 448.4,1942.6 455.7,1940.2 463.0,1945.1 472.6,1937.8 484.7,1929.3 492.0,1928.1 501.7,1933.0 509.0,1925.7 516.2,1919.6 525.9,1917.2 530.0,1916.6 535.3,1921.9 543.3,1927.2 550.0,1921.2 556.6,1924.6 564.6,1919.3 576.6,1917.9 583.3,1912.6 589.9,1908.6 599.3,1907.3 604.6,1903.3 609.9,1904.6 615.2,1896.6 617.9,1887.3 620.6,1874.0 625.9,1874.0 628.5,1871.3 636.5,1870.6 644.1,1868.4 651.4,1876.9 661.1,1878.1 668.3,1880.5 673.2,1895.1 680.4,1898.7 687.7,1895.1 692.5,1880.5 699.8,1879.3 709.5,1872.1 716.8,1864.8 721.1,1860.0" fill="none" stroke="rgb(205,25,15)" stroke-width="2.1" stroke-linejoin="round" stroke-opacity="0.78"/>
<polyline points="153.5,1913.2 169.2,1911.5 181.3,1909.6 193.4,1904.7 203.1,1897.5 215.2,1891.4 227.3,1889.0 237.0,1892.6 241.9,1890.2 251.5,1893.8 257.3,1896.9 264.5,1898.2 270.6,1902.4 276.6,1910.3 282.7,1921.2 288.7,1934.5 294.8,1945.4 298.4,1951.4 303.3,1962.3 309.3,1975.6 314.0,1988.0 322.0,2007.0 330.0,2018.0 340.0,2022.0 350.0,2021.0 357.5,2019.0 363.3,2009.0 371.0,2000.0 378.8,1993.0 388.5,1985.0 396.0,1980.0 405.0,1970.0 414.5,1949.9 424.2,1943.8 433.9,1940.2 438.7,1935.4 448.4,1935.4 455.7,1928.1 463.0,1925.7 472.6,1924.5 482.3,1918.4 492.0,1911.2 501.7,1901.5 516.2,1893.0 525.9,1891.8 530.0,1892.6 536.7,1893.9 540.7,1890.0 547.3,1887.3 552.6,1893.3 556.6,1892.6 563.3,1895.9 570.0,1895.9 576.6,1892.6 581.9,1887.3 585.9,1876.6 589.9,1871.3 593.9,1870.0 601.9,1870.6 609.9,1870.0 616.6,1868.0 623.2,1867.3 640.0,1864.6 646.5,1862.4 656.2,1867.2 663.5,1858.7 670.8,1864.8 678.0,1852.7 685.3,1846.6 695.0,1849.1 699.8,1845.4 709.5,1850.3 721.1,1849.1" fill="none" stroke="rgb(15,15,205)" stroke-width="2.1" stroke-linejoin="round" stroke-opacity="0.78"/>
<line x1="218.6" x2="218.6" y1="1576.4" y2="2143.2" stroke="#000" stroke-width="2.6"/>
<path d="M149.2,1576.4V2143.2H799.9" fill="none" stroke="#262626" stroke-width="1.2"/>
<line x1="149.2" x2="156.2" y1="1576.4" y2="1576.4" stroke="#262626" stroke-width="1.2"/>
<line x1="149.2" x2="156.2" y1="1657.4" y2="1657.4" stroke="#262626" stroke-width="1.2"/>
<line x1="149.2" x2="156.2" y1="1738.3" y2="1738.3" stroke="#262626" stroke-width="1.2"/>
<line x1="149.2" x2="156.2" y1="1819.3" y2="1819.3" stroke="#262626" stroke-width="1.2"/>
<line x1="149.2" x2="156.2" y1="1900.2" y2="1900.2" stroke="#262626" stroke-width="1.2"/>
<line x1="149.2" x2="156.2" y1="1981.2" y2="1981.2" stroke="#262626" stroke-width="1.2"/>
<line x1="149.2" x2="156.2" y1="2062.2" y2="2062.2" stroke="#262626" stroke-width="1.2"/>
<line x1="149.2" x2="156.2" y1="2143.1" y2="2143.1" stroke="#262626" stroke-width="1.2"/>
<line x1="153.3" x2="153.3" y1="2143.2" y2="2136.2" stroke="#262626" stroke-width="1.2"/>
<line x1="235.4" x2="235.4" y1="2143.2" y2="2136.2" stroke="#262626" stroke-width="1.2"/>
<line x1="409.3" x2="409.3" y1="2143.2" y2="2136.2" stroke="#262626" stroke-width="1.2"/>
<line x1="583.0" x2="583.0" y1="2143.2" y2="2136.2" stroke="#262626" stroke-width="1.2"/>
<line x1="743.7" x2="743.7" y1="2143.2" y2="2136.2" stroke="#262626" stroke-width="1.2"/>
<text x="137.2" y="1588.6" text-anchor="end" font-size="32.8">0.2</text>
<text x="137.2" y="1669.6" text-anchor="end" font-size="32.8">0.15</text>
<text x="137.2" y="1750.5" text-anchor="end" font-size="32.8">0.1</text>
<text x="137.2" y="1831.5" text-anchor="end" font-size="32.8">0.05</text>
<text x="137.2" y="1912.4" text-anchor="end" font-size="32.8">0</text>
<text x="137.2" y="1993.4" text-anchor="end" font-size="32.8">-0.05</text>
<text x="137.2" y="2074.4" text-anchor="end" font-size="32.8">-0.1</text>
<text x="137.2" y="2155.3" text-anchor="end" font-size="32.8">-0.15</text>
<text x="152.7" y="2184.0" text-anchor="middle" font-size="32.8">-0.5</text>
<text x="222.2" y="2184.0" text-anchor="middle" font-size="32.8">0</text>
<text x="395.4" y="2184.0" text-anchor="middle" font-size="32.8">1</text>
<text x="568.3" y="2184.0" text-anchor="middle" font-size="32.8">2</text>
<text x="729.6" y="2184.0" text-anchor="middle" font-size="32.8">3</text>
<text x="474.4" y="1567.5" text-anchor="middle" font-size="36.8" font-weight="bold" fill="#000">Williams syndrome</text>
<text x="474.5" y="2226.4" text-anchor="middle" font-size="37">Seconds</text>
<text transform="translate(48.4,1859.0) rotate(-90)" text-anchor="middle" font-size="37">Pupil Dilation (mm)</text>
<rect x="559.5" y="1590.1" width="225.1" height="110.8" fill="#fff" stroke="#262626" stroke-width="1.2"/>
<rect x="565.9" y="1598.7" width="56" height="25.6" fill="rgb(10,172,12)" fill-opacity="0.66" stroke="#0a300a" stroke-width="1.2"/>
<text x="626.1" y="1621.6" font-size="30.1" fill="#000">Constricted</text>
<rect x="565.9" y="1633.5" width="56" height="25.6" fill="rgb(180,8,8)" fill-opacity="0.66" stroke="#3a0808" stroke-width="1.2"/>
<text x="626.1" y="1656.4" font-size="30.1" fill="#000">Medium</text>
<rect x="565.9" y="1668.3" width="56" height="25.6" fill="rgb(12,14,182)" fill-opacity="0.66" stroke="#08083a" stroke-width="1.2"/>
<text x="626.1" y="1691.2" font-size="30.1" fill="#000">Dilated</text>
</svg>
</body></html>
